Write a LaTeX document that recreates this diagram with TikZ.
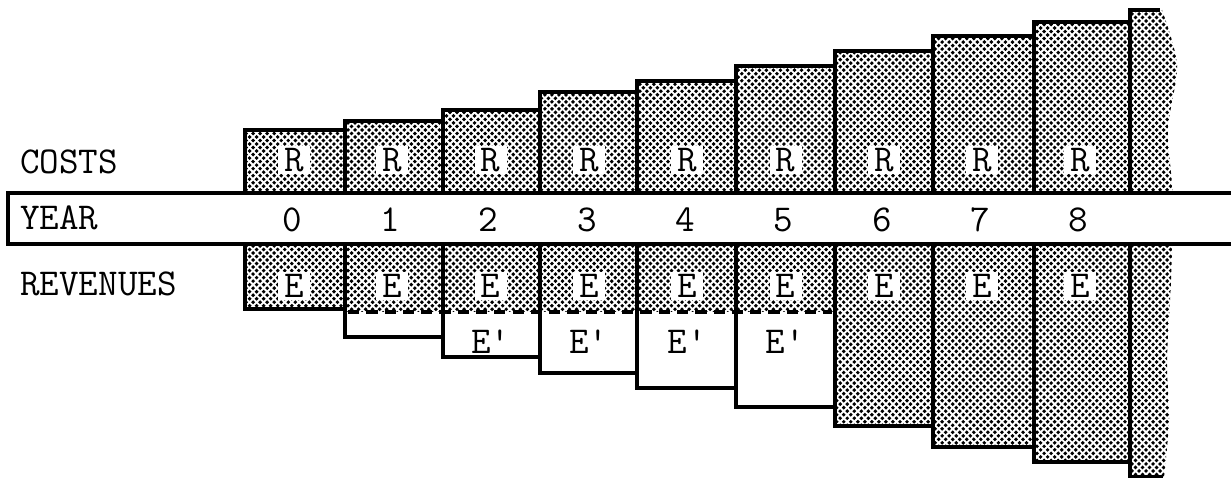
\documentclass[tikz,border=0pt]{standalone}
\usepackage{fontspec}
\usetikzlibrary{patterns}

\newcommand\lblfont{\ttfamily\fontsize{27}{30}\selectfont}

% halftone dots of the printed shading
\pgfdeclarepatternformonly{halftone}{\pgfqpoint{-1.5pt}{-1.5pt}}{\pgfqpoint{4pt}{4pt}}{\pgfqpoint{5pt}{5pt}}{%
  \pgfpathcircle{\pgfqpoint{0pt}{0pt}}{1.4pt}
  \pgfpathcircle{\pgfqpoint{2.5pt}{2.5pt}}{1.4pt}
  \pgfusepath{fill}}

\begin{document}
\begin{tikzpicture}[
    x=0.025cm, y=-0.025cm,
    line/.style  = {line width=2.4pt},
    bar/.style   = {draw, line width=2.4pt, pattern=halftone},
    tag/.style   = {fill=white, inner sep=0pt, minimum width=0.8cm,
                    minimum height=0.72cm, font=\lblfont},
    plain/.style = {inner sep=0pt, font=\lblfont},
    row/.style   = {anchor=west, inner sep=0pt, font=\lblfont}
]
\useasboundingbox (0,0) rectangle (1231,478);

% cost bars above the year strip
\foreach \xl/\xr/\top in {245/345/130, 345/443/121, 443/540/110, 540/637/92,
    637/736/81, 736/835/66, 835/933/51, 933/1034/36, 1034/1130/22}
  \draw[bar] (\xl,\top) rectangle (\xr,193);

% revenue bars fully shaded
\foreach \xl/\xr/\bot in {245/345/309, 835/933/426, 933/1034/447, 1034/1130/462}
  \draw[bar] (\xl,244) rectangle (\xr,\bot);

% revenue bars shaded only down to E
\foreach \xl/\xr/\bot in {345/443/337, 443/540/357, 540/637/373, 637/736/388, 736/835/407} {
  \fill[pattern=halftone] (\xl,244) rectangle (\xr,312);
  \draw[line] (\xl,244) rectangle (\xr,\bot);
}
\draw[line, dash pattern=on 8pt off 5pt] (348,312) -- (832,312);

% torn-off column at the right
\fill[pattern=halftone] (1130,10) -- plot[smooth] coordinates {(1162,10) (1177,65)
    (1168,130) (1173,200) (1171,280) (1167,360) (1169,420) (1164,477)} -- (1130,477) -- cycle;
\draw[line] (1160,10) -- (1130,10) -- (1130,477) -- (1163,477);

% year strip, open to the right
\fill[white] (8,193) rectangle (1231,244);
\draw[line width=3pt] (1240,193) -- (8,193) -- (8,244) -- (1240,244);

% row titles
\node[row] (costs)    at (20,162) {COSTS};
\node[row] (year)     at (20,218) {YEAR};
\node[row] (revenues) at (20,284) {REVENUES};

% per-year labels
\foreach \k in {0,...,8} {
  \node[tag]   (r\k) at ({294+98.3*\k},160) {R};
  \node[plain] (y\k) at ({292+98.3*\k},220) {\k};
  \node[tag]   (e\k) at ({294+98.3*\k},286) {E};
}
\foreach \k in {2,...,5}
  \node[plain] (ep\k) at ({294+98.3*\k},342) {E\textquotesingle};

\end{tikzpicture}
\end{document}
